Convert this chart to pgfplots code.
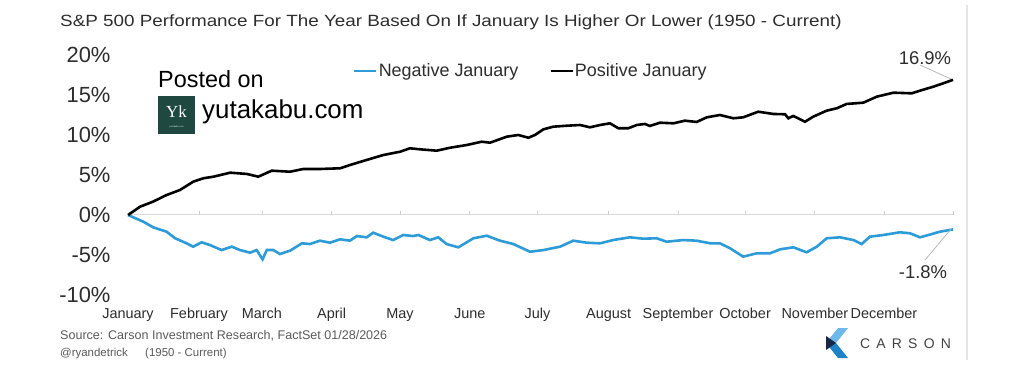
\documentclass[border=0pt]{standalone}
\usepackage{pgfplots}
\pgfplotsset{compat=1.18}
\usepackage{fontspec}
\setmainfont{Liberation Sans}
\newfontfamily\titlefont[FakeStretch=1.16]{Liberation Sans}
\newfontfamily\seriffont{Liberation Serif}
\definecolor{negblue}{RGB}{45,155,215}
\definecolor{txt}{RGB}{45,45,45}
\definecolor{srcgray}{RGB}{90,90,90}
\definecolor{ykgreen}{RGB}{30,72,64}
\definecolor{clight}{RGB}{110,185,235}
\definecolor{cmid}{RGB}{30,130,200}
\definecolor{cdark}{RGB}{25,40,70}
\begin{document}
\begin{tikzpicture}[x=1bp,y=1bp]
\fill[white] (0,0) rectangle (1024,372);
\useasboundingbox (0,0) rectangle (1024,372);
% title
\node[anchor=base west, inner sep=0, text=txt, font=\titlefont\fontsize{16.3}{16.3}\selectfont] at (60,346) {S\&P 500 Performance For The Year Based On If January Is Higher Or Lower (1950 - Current)};
% zero line with ticks
\begin{axis}[at={(128bp,77bp)}, anchor=south west, scale only axis,
  width=825bp, height=240bp, xmin=0, xmax=252, ymin=-10, ymax=20,
  axis x line=middle, axis y line=none,
  x axis line style={-, draw=gray!30, line width=1bp},
  xtick={21.7,40.9,62.0,83.1,104.2,124.9,146.6,168.0,188.5,209.8,230.9,252},
  xticklabels={}, major tick length=4bp, tick align=inside,
  xtick style={draw=gray!40, line width=0.8bp}]
\end{axis}
\begin{axis}[at={(128bp,77bp)}, anchor=south west, scale only axis,
  width=825bp, height=240bp, xmin=0, xmax=252, ymin=-10, ymax=20,
  axis line style={draw=none}, tick style={draw=none}, clip=false,
  ytick={-10,-5,0,5,10,15,20},
  yticklabels={-10\%,-5\%,0\%,5\%,10\%,15\%,20\%},
  yticklabel style={font=\fontsize{22}{22}\selectfont, text=txt, xshift=-14bp},
  xtick={0,21.7,40.9,62.2,83.1,104.4,125.1,146.8,168,188.5,209.8,230.9},
  xticklabels={January,February,March,April,May,June,July,August,September,October,November,December},
  xticklabel style={font=\fontsize{14.5}{14.5}\selectfont, text=txt, yshift=-10bp},
  legend style={at={(0.2727,0.933)}, anchor=west, draw=none, fill=none, inner sep=0pt,
    font=\fontsize{18}{18}\selectfont, text=txt, legend columns=2,
    /tikz/every even column/.append style={column sep=30bp},
    nodes={inner xsep=1bp}},
  legend image code/.code={\draw[#1] (0bp,0bp) -- (22bp,0bp);},
  ]
\addplot[negblue, line width=2.6bp] table {
x y
0 0
4.7 -0.84
7.7 -1.54
11.8 -2.09
14.4 -2.91
17.9 -3.54
19.9 -3.96
22.5 -3.41
25.0 -3.75
28.6 -4.38
31.7 -3.96
34.2 -4.38
37.3 -4.71
39.3 -4.38
41.1 -5.54
42.4 -4.38
44.4 -4.38
46.4 -4.88
49.5 -4.46
53.1 -3.54
55.6 -3.63
58.6 -3.21
61.7 -3.46
64.8 -3.04
67.8 -3.21
69.9 -2.63
72.9 -2.79
74.9 -2.21
78.0 -2.71
81.0 -3.13
84.1 -2.5
87.1 -2.63
88.7 -2.5
92.2 -3.13
94.8 -2.79
97.3 -3.63
100.9 -4.04
105.5 -2.91
109.6 -2.59
113.6 -3.21
117.7 -3.63
122.8 -4.59
126.9 -4.38
132.0 -3.96
136.0 -3.21
140.1 -3.46
144.2 -3.54
148.2 -3.13
153.3 -2.79
157.4 -2.96
161.5 -2.91
164.5 -3.34
169.6 -3.13
173.7 -3.21
177.8 -3.54
180.8 -3.54
183.9 -4.16
187.9 -5.21
192.0 -4.79
196.1 -4.79
199.2 -4.29
203.2 -4.04
207.3 -4.66
210.4 -3.96
213.4 -2.91
217.5 -2.79
221.6 -3.13
224.1 -3.63
226.6 -2.71
230.7 -2.5
235.8 -2.16
238.9 -2.29
241.9 -2.79
244.5 -2.5
248.0 -2.09
252 -1.8
};
\addlegendentry{Negative January}
\addplot[black, line width=2.6bp] table {
x y
0 0
3.7 1.04
7.6 1.66
11.8 2.5
15.9 3.13
19.9 4.16
23.0 4.59
26.1 4.79
31.2 5.29
36.3 5.13
39.8 4.79
43.9 5.54
49.5 5.41
53.5 5.75
58.6 5.75
64.8 5.84
67.8 6.25
72.9 6.88
78.0 7.5
83.1 7.91
86.1 8.34
89.2 8.21
94.3 8.04
98.4 8.41
103.5 8.75
108.0 9.16
110.6 9.04
115.7 9.79
119.2 10.0
122.3 9.66
124.3 10.0
126.9 10.71
129.9 11.04
134.0 11.16
138.1 11.25
141.1 10.96
144.2 11.25
147.2 11.46
149.8 10.84
152.8 10.84
155.4 11.25
157.9 11.38
159.4 11.13
162.5 11.54
166.6 11.46
170.1 11.79
173.7 11.63
176.8 12.21
180.8 12.5
184.9 12.09
187.9 12.21
192.5 12.91
197.1 12.63
200.7 12.59
201.7 12.09
203.2 12.38
206.8 11.66
209.3 12.29
213.4 13.04
216.5 13.34
219.5 13.88
224.6 14.04
228.7 14.79
233.8 15.29
239.4 15.21
241.9 15.54
246.0 16.04
249.0 16.46
252 16.9
};
\addlegendentry{Positive January}
\end{axis}
% end labels
\draw[gray!60, line width=0.7bp] (920,307) -- (951,293);
\node[anchor=center, inner sep=0, text=txt, font=\fontsize{18.5}{18.5}\selectfont] at (925,314) {16.9\%};
\draw[gray!60, line width=0.7bp] (925,112) -- (951,143);
\node[anchor=center, inner sep=0, text=txt, font=\fontsize{18.5}{18.5}\selectfont] at (923,100) {-1.8\%};
% posted on
\node[anchor=base west, inner sep=0, font=\fontsize{23.5}{23.5}\selectfont] at (158,285) {Posted on};
\fill[ykgreen] (158,238) rectangle (195,276);
\node[text=white, inner sep=0, font=\seriffont\fontsize{17}{17}\selectfont] at (176.5,260) {Yk};
\node[text=white, inner sep=0, font=\seriffont\fontsize{2.5}{2.5}\selectfont] at (176.5,245) {yutakabu.com};
\node[anchor=base west, inner sep=0, font=\fontsize{26}{26}\selectfont] at (202,254) {yutakabu.com};
% source
\node[anchor=base west, inner sep=0, text=srcgray, font=\fontsize{12.6}{12.6}\selectfont] at (60,33) {Source: Carson Investment Research, FactSet 01/28/2026};
\node[anchor=base west, inner sep=0, text=srcgray, font=\fontsize{11.5}{11.5}\selectfont] at (60,16) {@ryandetrick};
\node[anchor=base west, inner sep=0, text=srcgray, font=\fontsize{11.5}{11.5}\selectfont] at (145,16) {(1950 - Current)};
% carson logo
\fill[clight] (838,44) -- (848,44) -- (836,29) -- (826,29) -- cycle;
\fill[cmid] (826,29) -- (836,29) -- (848,14) -- (838,14) -- cycle;
\fill[cdark] (826,36) -- (836,29) -- (826,22) -- cycle;
\node[anchor=base west, inner sep=0, text=txt!90, font=\fontsize{14}{14}\selectfont] at (860,24) {C\hspace{6.2bp}A\hspace{6.2bp}R\hspace{6.2bp}S\hspace{6.2bp}O\hspace{6.2bp}N};
% right border
\draw[gray!20, line width=1.5bp] (967,367) -- (967,12);
\end{tikzpicture}
\end{document}
